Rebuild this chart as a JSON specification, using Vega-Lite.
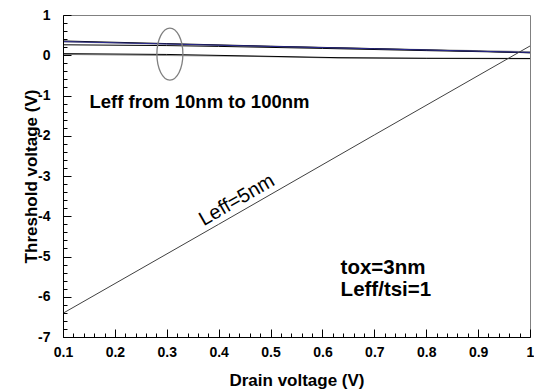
{
  "$schema": "https://vega.github.io/schema/vega-lite/v6.json",
  "width": 467,
  "height": 322,
  "autosize": "none",
  "padding": {"left": 63, "top": 15, "right": 4, "bottom": 53},
  "background": "white",
  "config": {
    "view": {"stroke": "#808080", "strokeWidth": 1},
    "font": "Liberation Sans",
    "axis": {
      "labelFont": "Liberation Sans",
      "labelFontSize": 14,
      "labelFontWeight": "bold",
      "labelColor": "#000000",
      "titleFont": "Liberation Sans",
      "titleFontSize": 17,
      "titleFontWeight": "bold",
      "titleColor": "#000000",
      "domainColor": "#000000",
      "domainWidth": 1,
      "tickColor": "#000000",
      "tickWidth": 1,
      "tickOpacity": 1,
      "gridColor": "#000000",
      "gridOpacity": 1,
      "gridWidth": 1
    }
  },
  "datasets": {
    "curves": [
      {"series": "gray", "v": 0.1, "vt": 0.33},
      {"series": "gray", "v": 0.3, "vt": 0.275},
      {"series": "gray", "v": 0.5, "vt": 0.215},
      {"series": "gray", "v": 0.7, "vt": 0.165},
      {"series": "gray", "v": 0.9, "vt": 0.115},
      {"series": "gray", "v": 1.0, "vt": 0.09},
      {"series": "grayLow", "v": 0.1, "vt": 0.02},
      {"series": "grayLow", "v": 0.47, "vt": -0.03},
      {"series": "grayLow", "v": 0.63, "vt": -0.07},
      {"series": "grayLow", "v": 1.0, "vt": -0.09},
      {"series": "blackA", "v": 0.1, "vt": 0.355},
      {"series": "blackA", "v": 0.3, "vt": 0.29},
      {"series": "blackA", "v": 0.5, "vt": 0.225},
      {"series": "blackA", "v": 0.7, "vt": 0.165},
      {"series": "blackA", "v": 0.9, "vt": 0.1},
      {"series": "blackA", "v": 1.0, "vt": 0.06},
      {"series": "blackB", "v": 0.1, "vt": 0.26},
      {"series": "blackB", "v": 0.3, "vt": 0.24},
      {"series": "blackB", "v": 0.4, "vt": 0.22},
      {"series": "blackB", "v": 0.6, "vt": 0.17},
      {"series": "blackB", "v": 0.8, "vt": 0.115},
      {"series": "blackB", "v": 1.0, "vt": 0.065},
      {"series": "blackLow", "v": 0.1, "vt": 0.04},
      {"series": "blackLow", "v": 0.3, "vt": 0.02},
      {"series": "blackLow", "v": 0.47, "vt": -0.02},
      {"series": "blackLow", "v": 0.63, "vt": -0.06},
      {"series": "blackLow", "v": 0.8, "vt": -0.075},
      {"series": "blackLow", "v": 1.0, "vt": -0.08},
      {"series": "blue", "v": 0.1, "vt": 0.34},
      {"series": "blue", "v": 0.3, "vt": 0.28},
      {"series": "blue", "v": 0.5, "vt": 0.22},
      {"series": "blue", "v": 0.7, "vt": 0.16},
      {"series": "blue", "v": 0.9, "vt": 0.1},
      {"series": "blue", "v": 1.0, "vt": 0.07},
      {"series": "L5", "v": 0.1, "vt": -6.41},
      {"series": "L5", "v": 0.4, "vt": -4.2},
      {"series": "L5", "v": 0.7, "vt": -1.98},
      {"series": "L5", "v": 1.0, "vt": 0.23}
    ]
  },
  "layer": [
    {
      "data": {"name": "curves"},
      "mark": {"type": "line", "strokeWidth": 1, "clip": true},
      "encoding": {
        "x": {
          "field": "v", "type": "quantitative",
          "scale": {"domain": [0.1, 1], "nice": false, "zero": false},
          "axis": {
            "orient": "bottom",
            "zindex": 1,
            "values": [0.1, 0.12, 0.14, 0.16, 0.18, 0.2, 0.22, 0.24, 0.26, 0.28, 0.3, 0.32, 0.34, 0.36, 0.38, 0.4, 0.42, 0.44, 0.46, 0.48, 0.5, 0.52, 0.54, 0.56, 0.58, 0.6, 0.62, 0.64, 0.66, 0.68, 0.7, 0.72, 0.74, 0.76, 0.78, 0.8, 0.82, 0.84, 0.86, 0.88, 0.9, 0.92, 0.94, 0.96, 0.98, 1],
            "labelExpr": "abs(datum.value * 10 - round(datum.value * 10)) < 0.001 ? datum.value + '' : ''",
            "labelOverlap": false,
            "labelFlush": false,
            "ticks": true,
            "tickColor": "#000000",
            "tickOpacity": 1,
            "tickWidth": 1,
            "tickSize": {"condition": {"test": "abs(datum.value * 10 - round(datum.value * 10)) < 0.001", "value": -8}, "value": -4},
            "grid": false,
            "labelPadding": 16,
            "title": "Drain voltage (V)",
            "titlePadding": 9
          }
        },
        "y": {
          "field": "vt", "type": "quantitative",
          "scale": {"domain": [-7, 1], "nice": false, "zero": false},
          "axis": {
            "orient": "left",
            "zindex": 1,
            "values": [-7, -6.8, -6.6, -6.4, -6.2, -6, -5.8, -5.6, -5.4, -5.2, -5, -4.8, -4.6, -4.4, -4.2, -4, -3.8, -3.6, -3.4, -3.2, -3, -2.8, -2.6, -2.4, -2.2, -2, -1.8, -1.6, -1.4, -1.2, -1, -0.8, -0.6, -0.4, -0.2, 0, 0.2, 0.4, 0.6, 0.8, 1],
            "labelExpr": "abs(datum.value - round(datum.value)) < 0.001 ? round(datum.value) + '' : ''",
            "labelOverlap": false,
            "labelFlush": false,
            "ticks": false,
            "grid": true,
            "gridColor": "#000000",
            "gridOpacity": 1,
            "gridWidth": 1,
            "gridDash": {"condition": {"test": "abs(datum.value - round(datum.value)) < 0.001", "value": [8, 2000]}, "value": [4, 2000]},
            "labelPadding": 13,
            "title": "Threshold voltage (V)",
            "titlePadding": -3
          }
        },
        "color": {
          "field": "series", "type": "nominal",
          "scale": {
            "domain": ["gray", "grayLow", "blackA", "blackB", "blackLow", "blue", "L5"],
            "range": ["#909090", "#909090", "#000000", "#000000", "#000000", "#2a2a90", "#404040"]
          },
          "legend": null
        }
      }
    },
    {
      "data": {"values": [{"v": 0.306, "vt": 0.03}]},
      "mark": {
        "type": "point",
        "shape": "M0,-1A0.5,1,0,1,1,0,1A0.5,1,0,1,1,0,-1Z",
        "size": 2704,
        "filled": false,
        "stroke": "#808080",
        "strokeWidth": 1.3,
        "opacity": 1
      },
      "encoding": {
        "x": {"field": "v", "type": "quantitative", "axis": null},
        "y": {"field": "vt", "type": "quantitative", "axis": null}
      }
    },
    {
      "data": {"values": [{"v": 0.363, "vt": -1.17, "label": "Leff from 10nm to 100nm"}]},
      "mark": {"type": "text", "font": "Liberation Sans", "fontSize": 18.5, "fontWeight": "bold", "align": "center", "baseline": "middle", "color": "#000000"},
      "encoding": {
        "x": {"field": "v", "type": "quantitative", "axis": null},
        "y": {"field": "vt", "type": "quantitative", "axis": null},
        "text": {"field": "label"}
      }
    },
    {
      "data": {"values": [{"v": 0.435, "vt": -3.6, "label": "Leff=5nm"}]},
      "mark": {"type": "text", "font": "Liberation Sans", "fontSize": 20, "fontWeight": "normal", "align": "center", "baseline": "middle", "angle": 330, "color": "#000000"},
      "encoding": {
        "x": {"field": "v", "type": "quantitative", "axis": null},
        "y": {"field": "vt", "type": "quantitative", "axis": null},
        "text": {"field": "label"}
      }
    },
    {
      "data": {"values": [
        {"v": 0.635, "vt": -5.28, "label": "tox=3nm"},
        {"v": 0.635, "vt": -5.84, "label": "Leff/tsi=1"}
      ]},
      "mark": {"type": "text", "font": "Liberation Sans", "fontSize": 20.5, "fontWeight": "bold", "align": "left", "baseline": "middle", "color": "#000000"},
      "encoding": {
        "x": {"field": "v", "type": "quantitative", "axis": null},
        "y": {"field": "vt", "type": "quantitative", "axis": null},
        "text": {"field": "label"}
      }
    }
  ],
  "resolve": {"axis": {"x": "independent", "y": "independent"}}
}
